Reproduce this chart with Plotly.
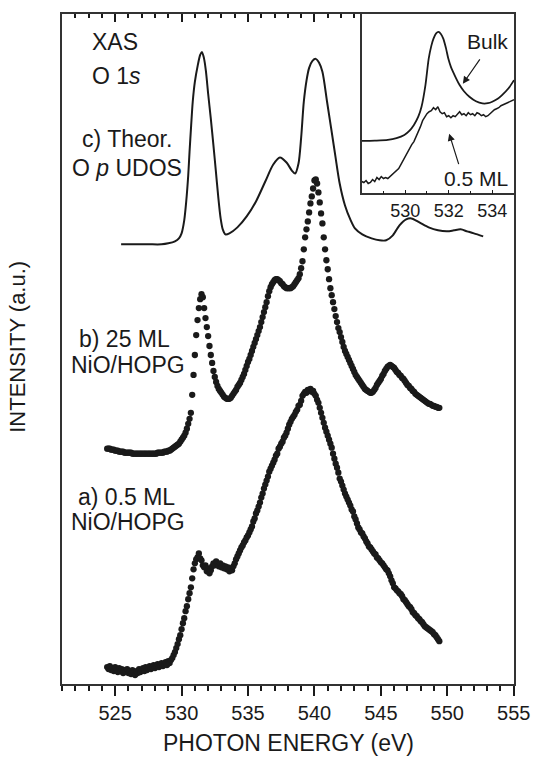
import numpy as np
import plotly.graph_objects as go

# ---------------- data (intensities in arbitrary units, curves offset) ----------------
# a) 0.5 ML NiO/HOPG, measured points every 0.1 eV starting at 524.4 eV
a_start, a_step = 524.4, 0.1
a_int = [
    17, 15, 18, 14, 16, 13, 17, 14, 12, 16,
    13, 15, 11, 14, 12, 15, 11, 13, 10, 14,
    12, 9, 13, 11, 15, 12, 14, 16, 13, 17,
    14, 16, 18, 15, 17, 19, 16, 18, 20, 17,
    19, 21, 18, 20, 22, 19, 23, 21, 24, 26,
    29, 32, 36, 40, 45, 49, 55, 61, 66, 73,
    78, 85, 91, 97, 106, 115, 121, 125, 127, 131,
    126, 124, 119, 117, 119, 113, 116, 111, 114, 118,
    121, 119, 123, 120, 118, 121, 117, 119, 116, 118,
    115, 117, 113, 116, 114, 118, 121, 125, 128, 131,
    134, 137, 139, 142, 144, 147, 149, 152, 155, 158,
    163, 166, 171, 174, 178, 182, 187, 191, 196, 200,
    204, 208, 213, 216, 219, 222, 225, 229, 231, 236,
    238, 241, 243, 247, 249, 252, 256, 260, 263, 266,
    268, 270, 273, 275, 279, 280, 284, 289, 291, 293,
    292, 295, 294, 296, 293, 294, 291, 289, 285, 282,
    277, 272, 267, 262, 257, 253, 249, 245, 241, 237,
    231, 226, 221, 217, 212, 206, 203, 199, 195, 191,
    188, 185, 182, 179, 175, 173, 168, 165, 161, 157,
    155, 152, 151, 148, 146, 143, 141, 138, 137, 135,
    133, 131, 130, 127, 126, 124, 122, 121, 119, 117,
    115, 114, 111, 108, 104, 101, 97, 96, 94, 93,
    91, 90, 88, 85, 84, 82, 80, 78, 77, 75,
    72, 71, 69, 68, 66, 65, 63, 62, 60, 58,
    57, 56, 55, 54, 53, 52, 50, 49, 47, 45,
    43,
]

# b) 25 ML NiO/HOPG, measured points every 0.1 eV starting at 524.4 eV
b_start, b_step = 524.4, 0.1
b_int = [
    236, 236, 236, 235, 235, 235, 234, 234, 234, 233,
    233, 233, 233, 232, 232, 232, 232, 232, 232, 231,
    231, 231, 231, 231, 231, 231, 231, 231, 231, 231,
    231, 231, 231, 231, 231, 231, 231, 231, 232, 232,
    232, 232, 232, 233, 233, 233, 234, 234, 235, 236,
    237, 238, 239, 240, 241, 243, 245, 247, 249, 252,
    256, 261, 266, 272, 290, 310, 330, 350, 365, 377,
    386, 391, 388, 377, 367, 358, 349, 339, 330, 322,
    314, 308, 303, 299, 296, 294, 292, 290, 288, 287,
    286, 286, 286, 287, 289, 291, 293, 295, 298, 300,
    302, 305, 308, 311, 315, 319, 323, 326, 330, 334,
    338, 342, 346, 350, 354, 358, 363, 368, 373, 378,
    383, 389, 394, 398, 401, 403, 405, 406, 406, 405,
    404, 402, 401, 399, 398, 397, 397, 397, 397, 398,
    399, 401, 403, 405, 407, 411, 417, 424, 436, 448,
    456, 464, 473, 482, 489, 497, 505, 506, 502, 493,
    483, 472, 462, 448, 436, 425, 416, 406, 397, 390,
    383, 376, 369, 363, 357, 353, 348, 343, 338, 334,
    331, 328, 325, 322, 319, 316, 313, 310, 308, 306,
    304, 302, 300, 298, 296, 295, 294, 293, 292, 292,
    293, 295, 297, 300, 302, 304, 306, 309, 311, 314,
    316, 318, 319, 320, 319, 318, 317, 315, 313, 312,
    310, 309, 307, 306, 304, 302, 300, 299, 297, 296,
    294, 293, 291, 290, 289, 288, 287, 286, 285, 284,
    283, 282, 281, 281, 280, 279, 279, 278, 278, 277,
    277,
]

# c) Theoretical O p UDOS (line)
c_energy = [525.45, 526.5, 527.5, 528.5, 529.0, 529.5, 529.8, 530.0, 530.2, 530.35,
            530.5, 530.6, 530.72, 530.84, 531.0, 531.21, 531.4, 531.53, 531.68, 531.83,
            532.0, 532.2, 532.4, 532.57, 532.75, 532.94, 533.1, 533.3, 533.6, 534.2,
            534.9, 535.6, 536.3, 536.9, 537.4, 537.9, 538.3, 538.55, 538.8, 539.0,
            539.2, 539.4, 539.6, 539.85, 540.1, 540.35, 540.6, 540.95, 541.25, 541.57,
            541.9, 542.3, 542.7, 543.05, 543.6, 544.3, 544.9, 545.4, 545.9, 546.4,
            546.9, 547.3, 547.9, 548.6, 549.3, 550.0, 550.5, 551.0, 551.5, 552.0, 552.7]
c_int = [441, 441, 441, 441, 442, 444, 447, 452, 465, 484,
         510, 534, 560, 584, 604, 620, 631, 634, 628, 615,
         592, 567, 540, 516, 490, 467, 456, 451, 452, 458,
         469, 484, 504, 521, 528, 523, 515, 512, 522, 548,
         584, 605, 618, 625, 627, 623, 614, 584, 558, 530,
         502, 480, 466, 457, 451, 447, 445, 445, 450, 460,
         466, 467, 463, 458, 455, 454, 455, 456, 454, 452, 449]

# inset: Bulk (line)
bulk_energy = [528.0, 528.6, 529.2, 529.6, 529.96, 530.2, 530.4, 530.6, 530.75, 530.93,
               531.08, 531.2, 531.3, 531.42, 531.53, 531.64, 531.75, 531.87, 531.98, 532.1,
               532.2, 532.35, 532.5, 532.7, 532.95, 533.25, 533.55, 533.8, 534.0, 534.25,
               534.45, 534.75, 535.0]
bulk_int = [52.7, 53, 53.7, 55.5, 58.7, 63, 68.7, 77, 87, 108.7,
            135.3, 148, 155.3, 160.5, 162, 160, 155.3, 146, 135.3, 127,
            122, 115, 108.7, 102.5, 97, 92.5, 90.3, 90.5, 92, 95,
            98.7, 105.5, 113.7]

# inset: 0.5 ML (line), every 0.1 eV starting at 528.0 eV
ml_start, ml_step = 528.0, 0.1
ml_int = [
    12, 11, 13, 10, 11, 14, 12, 16, 14, 17,
    15, 16, 15, 17, 19, 20, 23, 25, 29, 33,
    37, 42, 45, 49, 52, 57, 61, 67, 73, 77,
    80, 82, 83, 86, 84, 87, 82, 80, 81, 77,
    78, 76, 78, 77, 80, 82, 79, 80, 78, 81,
    79, 80, 78, 81, 80, 78, 79, 77, 78, 80,
    82, 84, 85, 86, 88, 89, 90, 91, 92, 93,
    94,
]

main_ticks = [525, 530, 535, 540, 545, 550, 555]
inset_ticks = [530, 532, 534]

# ---------------- figure ----------------
W, H = 542, 760
L, R, T, B = 62, 522, 12, 684
INK = "#1a1a1a"
FONT = "Liberation Sans, Arial, sans-serif"

def px(x):
    return (x - L) / (R - L)

def py(y):
    return (B - y) / (B - T)

a_energy = a_start + a_step * np.arange(len(a_int))
b_energy = b_start + b_step * np.arange(len(b_int))
ml_energy = ml_start + ml_step * np.arange(len(ml_int))

fig = go.Figure()
fig.add_trace(go.Scatter(x=a_energy, y=a_int, mode="markers",
                         marker=dict(size=6.3, color=INK), xaxis="x", yaxis="y"))
fig.add_trace(go.Scatter(x=b_energy, y=b_int, mode="markers",
                         marker=dict(size=6.3, color=INK), xaxis="x", yaxis="y"))
fig.add_trace(go.Scatter(x=c_energy, y=c_int, mode="lines",
                         line=dict(color=INK, width=2, shape="spline", smoothing=0.8),
                         xaxis="x2", yaxis="y"))
fig.add_trace(go.Scatter(x=bulk_energy, y=bulk_int, mode="lines",
                         line=dict(color=INK, width=1.8, shape="spline", smoothing=0.8),
                         xaxis="x3", yaxis="y3"))
fig.add_trace(go.Scatter(x=ml_energy, y=ml_int, mode="lines",
                         line=dict(color=INK, width=1.5),
                         xaxis="x3", yaxis="y3"))

xr = [521, 555.02]
fig.update_layout(
    width=W, height=H,
    margin=dict(l=L, r=W - R, t=T, b=H - B),
    paper_bgcolor="white", plot_bgcolor="white",
    showlegend=False,
    font=dict(family=FONT, color=INK),
    xaxis=dict(range=xr, tickmode="array", tickvals=main_ticks, ticks="outside",
               ticklen=10, tickwidth=1.5, tickcolor=INK, showline=True, linewidth=2,
               linecolor="#333", mirror=True, showgrid=False, zeroline=False,
               tickfont=dict(size=20, color=INK), ticklabelstandoff=0,
               minor=dict(dtick=1, tick0=521, ticks="outside", ticklen=5,
                          tickwidth=1.5, tickcolor=INK, showgrid=False)),
    xaxis2=dict(range=xr, overlaying="x", side="top", tickmode="array",
                tickvals=main_ticks, ticks="inside", ticklen=8, tickwidth=1.5,
                tickcolor=INK, showticklabels=False, showline=False, showgrid=False,
                zeroline=False,
                minor=dict(dtick=1, tick0=521, ticks="inside", ticklen=4,
                           tickwidth=1.5, tickcolor=INK, showgrid=False)),
    yaxis=dict(range=[0, 672], showticklabels=False, ticks="", showline=True,
               linewidth=2, linecolor="#333", mirror=True, showgrid=False,
               zeroline=False),
    xaxis3=dict(domain=[px(367), 1], anchor="y3", range=[528, 535], tickmode="array",
                tickvals=inset_ticks, ticks="inside", ticklen=4, tickwidth=1.2,
                tickcolor=INK, showline=True, linewidth=1.5, linecolor="#333",
                mirror=True, showgrid=False, zeroline=False,
                tickfont=dict(size=18, color=INK),
                minor=dict(dtick=1, tick0=528, ticks="inside", ticklen=3,
                           tickwidth=1.2, tickcolor=INK, showgrid=False)),
    yaxis3=dict(domain=[py(192), 1], anchor="x3", range=[0, 180], showticklabels=False,
                ticks="", showline=True, linewidth=1.5, linecolor="#333", mirror=True,
                showgrid=False, zeroline=False),
)

def label(text, x, y, size=23, xanchor="center", angle=0):
    fig.add_annotation(text=text, x=px(x), y=py(y), xref="paper", yref="paper",
                       showarrow=False, xanchor=xanchor, yanchor="middle",
                       textangle=angle, font=dict(size=size, color=INK, family=FONT))

label("XAS", 91, 40, xanchor="left")
label("O 1<i>s</i>", 91, 74, xanchor="left")
label("c) Theor.", 128, 137)
label("O <i>p</i> UDOS", 128, 166)
label("b) 25 ML", 126, 338)
label("NiO/HOPG", 129, 364)
label("a) 0.5 ML", 128, 496)
label("NiO/HOPG", 129, 522)
label("Bulk", 495, 40, size=21)
label("0.5 ML", 483, 177, size=21)
label("PHOTON ENERGY (eV)", 292, 743, size=23)
label("INTENSITY (a.u.)", 16, 346, size=22, angle=-90)

# arrows in the inset
fig.add_annotation(x=532.65, y=110, xref="x3", yref="y3", ax=18, ay=-26, text="",
                   showarrow=True, arrowhead=2, arrowsize=1.2, arrowwidth=1.2,
                   arrowcolor=INK, standoff=0)
fig.add_annotation(x=532.02, y=60, xref="x3", yref="y3", ax=10, ay=32, text="",
                   showarrow=True, arrowhead=2, arrowsize=1.2, arrowwidth=1.2,
                   arrowcolor=INK, standoff=0)

fig.write_html("out.html", config={"displayModeBar": False},
               post_script="document.body.style.margin='0';document.body.style.overflow='hidden';")
